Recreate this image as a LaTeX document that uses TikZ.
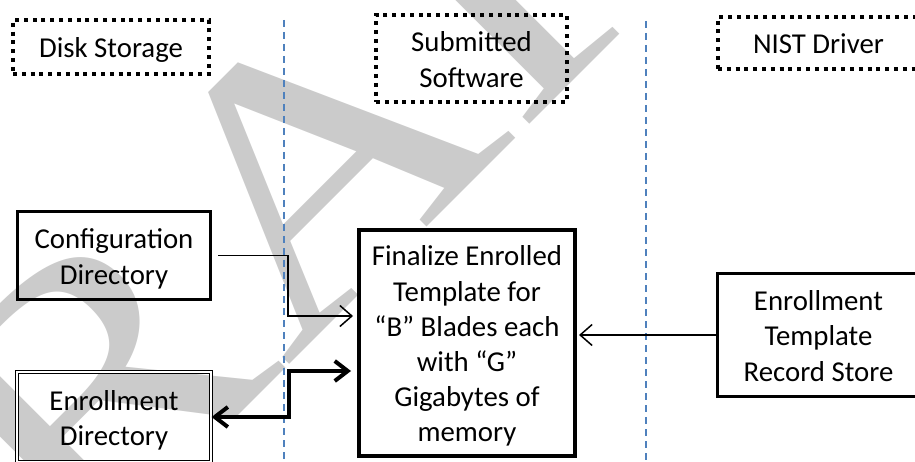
\documentclass[tikz,border=0pt]{standalone}
\usepackage{fontspec}
\setmainfont{Carlito}
\newfontfamily\wmfont{Liberation Serif}
\usetikzlibrary{arrows.meta,calc}
\definecolor{lanecol}{RGB}{79,129,189}
\definecolor{wmcol}{RGB}{203,203,203}
\newcommand\lnst{\rule[-0.23em]{0pt}{1.22em}}
\tikzset{
  lbl/.style={font=\fontsize{28.8bp}{35.2bp}\selectfont, align=center, inner sep=0pt},
  dotbox/.style={lbl, draw, line width=4bp, dash pattern=on 4bp off 4.8bp},
  solidbox/.style={lbl, draw, line width=3.2bp},
  dblbox/.style={lbl, draw, double, line width=1.1bp, double distance=2bp},
  bigbox/.style={lbl, draw, line width=4bp},
  lanestyle/.style={draw=lanecol, line width=1.3bp, dash pattern=on 7bp off 5bp},
  thinarrow/.style={line width=1.5bp, -{Straight Barb[length=12bp,width=21bp,line width=1.5bp]}},
  thickarrow/.style={line width=4bp, {Straight Barb[length=13bp,width=20bp,line width=4bp]}-{Straight Barb[length=13bp,width=20bp,line width=4bp]}},
}
\begin{document}
\begin{tikzpicture}[x=1bp,y=-1bp]
  \useasboundingbox (0,0) rectangle (915,462);
  \clip (0,0) rectangle (915,462);
  % watermark
  \node[rotate=45, xscale=1.2, anchor=base west, inner sep=0pt, text=wmcol,
        font=\wmfont\fontsize{378bp}{378bp}\selectfont] (wm) at (-159,813) {DRAFT};
  % swimlane separators
  \draw[lanestyle] (284,20) -- (284,462);
  \draw[lanestyle] (646,21) -- (646,462);
  % lane headers
  \node[dotbox, minimum width=196bp, minimum height=54bp] (disk) at (111,47) {\lnst Disk Storage};
  \node[dotbox, minimum width=191bp, minimum height=87bp] (sub) at (471.5,58.5) {\lnst Submitted\\\lnst Software};
  \node[dotbox, minimum width=201bp, minimum height=52bp] (nist) at (818.5,43) {\lnst NIST Driver};
  % boxes
  \node[solidbox, minimum width=193bp, minimum height=88bp] (cfg) at (114,255.5) {\lnst Configuration\\\lnst Directory};
  \node[dblbox, minimum width=194bp, minimum height=90bp] (enr) at (114,417) {\lnst Enrollment\\\lnst Directory};
  \node[bigbox, minimum width=216bp, minimum height=226bp] (fin) at (467,343)
    {\lnst Finalize Enrolled\\\lnst Template for\\\lnst “B” Blades each\\\lnst with “G”\\\lnst Gigabytes of\\\lnst memory};
  \node[solidbox, minimum width=201.5bp, minimum height=122.5bp] (ets) at (818.5,335)
    {\lnst Enrollment\\\lnst Template\\\lnst Record Store};
  % connectors
  \draw[thinarrow] ([xshift=6bp]cfg.east) -- ++(70,0) |- ($(fin.west)+(-4,-27)$);
  \draw[thickarrow] (enr.east) -- ++(77,0) |- ($(fin.west)+(-6,28)$);
  \draw[thinarrow] (ets.west) -- ($(ets.west -| fin.east)+(2,0)$);
\end{tikzpicture}
\end{document}
